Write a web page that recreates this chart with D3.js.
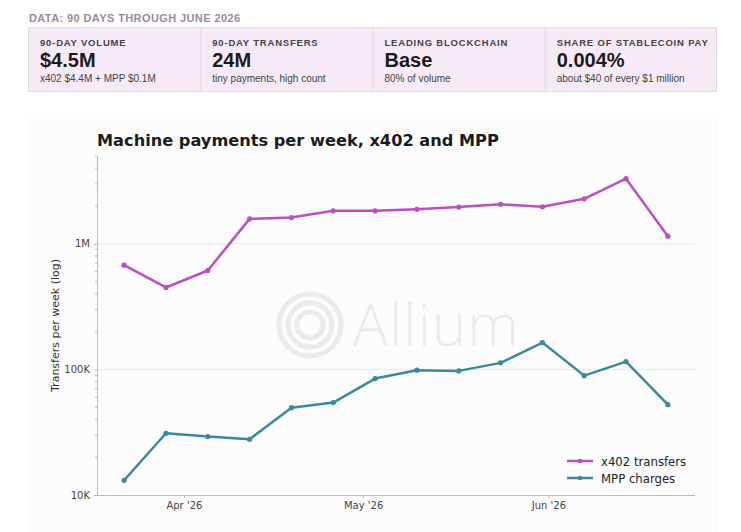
<!DOCTYPE html>
<html>
<head>
<meta charset="utf-8">
<script src="https://cdn.jsdelivr.net/npm/d3@7"></script>
<style>
body{margin:0;background:#fff;font-family:"Liberation Sans",Arial,sans-serif;}
svg{display:block;}
</style>
</head>
<body>
<svg id="chart" width="741" height="532"></svg>
<script>
// weekly data
var weeks=["2026-03-22","2026-03-29","2026-04-05","2026-04-12","2026-04-19","2026-04-26","2026-05-03",
           "2026-05-10","2026-05-17","2026-05-24","2026-05-31","2026-06-07","2026-06-14","2026-06-21"];
var x402Values=[676000,449000,613000,1580000,1620000,1830000,1830000,1880000,1960000,2060000,1970000,2280000,3300000,1150000];
var mppValues=[13100,31000,29200,27800,49600,54400,84500,98500,97300,112700,163500,89200,115400,52400];
var seriesNames=["x402 transfers","MPP charges"];
var yTicks=[10000,100000,1000000];
var yTickLabels=["10K","100K","1M"];
var xTicks=["2026-04-01","2026-05-01","2026-06-01"];
var xTickLabels=["Apr '26","May '26","Jun '26"];

var cardLabels=["90-DAY VOLUME","90-DAY TRANSFERS","LEADING BLOCKCHAIN","SHARE OF STABLECOIN PAY"];
var cardValues=["$4.5M","24M","Base","0.004%"];
var cardNotes=["x402 $4.4M + MPP $0.1M","tiny payments, high count","80% of volume","about $40 of every $1 million"];

var colors=["#bb4fc2","#3b899c"];
var parse=d3.utcParse("%Y-%m-%d");

var svg=d3.select("#chart");

//header + stat cards
svg.append("text")
	.attr("x",29).attr("y",22)
	.attr("fill","#9a8a9e")
	.style("font-size","11px").style("font-weight","bold").style("letter-spacing","0.4px")
	.text("DATA: 90 DAYS THROUGH JUNE 2026");

var cardX=d3.scaleBand().domain(d3.range(4)).range([28,717]);
svg.append("rect").attr("x",28.5).attr("y",27.5).attr("width",688).attr("height",64)
	.attr("fill","#f7eaf7").attr("stroke","#dedade");
var cards=svg.selectAll(".card").data(cardLabels).enter().append("g")
	.attr("class","card")
	.attr("transform",function(d,i){ return "translate("+cardX(i)+",27)"; });
cards.filter(function(d,i){ return i>0; }).append("line")
	.attr("x1",0.5).attr("x2",0.5).attr("y1",0).attr("y2",64)
	.attr("stroke","#dedade");
cards.append("text").attr("x",12).attr("y",19)
	.attr("fill","#444").style("font-size","9.5px").style("font-weight","bold").style("letter-spacing","0.8px")
	.text(function(d){ return d; });
cards.append("text").attr("x",12).attr("y",39.5)
	.attr("fill","#1b1b1b").style("font-size","20px").style("font-weight","bold")
	.text(function(d,i){ return cardValues[i]; });
cards.append("text").attr("x",12).attr("y",55)
	.attr("fill","#444").style("font-size","10px")
	.text(function(d,i){ return cardNotes[i]; });

//chart panel
svg.append("rect").attr("x",28).attr("y",119).attr("width",690).attr("height",413).attr("fill","#fcfcfc");

var margin={left:97,right:695,top:156,bottom:495};
var x=d3.scaleUtc()
	.domain([d3.utcHour.offset(parse(weeks[0]),-109),d3.utcHour.offset(parse(weeks[weeks.length-1]),109)])
	.range([margin.left,margin.right]);
var y=d3.scaleLog().domain([10000,5000000]).range([margin.bottom,margin.top]);

svg.append("text").attr("x",97).attr("y",146)
	.attr("fill","#1b1b1b")
	.style("font-family","'DejaVu Sans'").style("font-size","16.2px").style("font-weight","bold")
	.text("Machine payments per week, x402 and MPP");

//watermark
var wm=svg.append("g");
[31,22,13].forEach(function(r){
	wm.append("circle").attr("cx",310).attr("cy",325).attr("r",r)
		.attr("fill","none").attr("stroke","#ebebeb").attr("stroke-width",5);
});
wm.append("text").attr("x",353).attr("y",346)
	.attr("fill","#ebebeb")
	.style("font-family","'Open Sans'").style("font-size","58px").style("font-weight","300").style("letter-spacing","1.2px")
	.text("Allium");

//grid
svg.append("g").selectAll("line").data(yTicks.slice(1)).enter().append("line")
	.attr("x1",margin.left).attr("x2",margin.right)
	.attr("y1",function(d){ return y(d); }).attr("y2",function(d){ return y(d); })
	.attr("stroke","#e8e8e8").attr("stroke-width",1);

//axes
var yAxis=d3.axisLeft(y).tickValues(yTicks).tickFormat(function(d,i){ return yTickLabels[i]; }).tickSize(3).tickPadding(4);
var gy=svg.append("g").attr("transform","translate("+margin.left+",0)").call(yAxis);
var minor=[];
[10000,100000,1000000].forEach(function(b){ for(var k=2;k<10;k++){ if(b*k<=5000000) minor.push(b*k); } });
gy.selectAll(".minor").data(minor).enter().append("line").attr("class","minor")
	.attr("x1",-2).attr("x2",0).attr("y1",function(d){ return y(d); }).attr("y2",function(d){ return y(d); })
	.attr("stroke","#bbb");

var xAxis=d3.axisBottom(x).tickValues(xTicks.map(parse)).tickFormat(function(d,i){ return xTickLabels[i]; }).tickSize(3).tickPadding(4);
var gx=svg.append("g").attr("transform","translate(0,"+margin.bottom+")").call(xAxis);

[gx,gy].forEach(function(g){
	g.select(".domain").attr("stroke","#bbb");
	g.selectAll(".tick line").attr("stroke","#bbb");
	g.selectAll("text").attr("fill","#444").style("font-family","'DejaVu Sans'").style("font-size","10px");
});
gx.select(".domain").attr("d","M"+margin.left+",0.5H"+margin.right);
gy.select(".domain").attr("d","M0.5,"+margin.bottom+"V"+margin.top);

svg.append("text")
	.attr("transform","translate(59,"+((margin.top+margin.bottom)/2)+") rotate(-90)")
	.attr("text-anchor","middle").attr("fill","#333")
	.style("font-family","'DejaVu Sans'").style("font-size","11px")
	.text("Transfers per week (log)");

//lines
var series=[x402Values,mppValues];
var line=d3.line().x(function(d,i){ return x(parse(weeks[i])); }).y(function(d){ return y(d); });
series.forEach(function(vals,s){
	svg.append("path").datum(vals).attr("d",line)
		.attr("fill","none").attr("stroke",colors[s]).attr("stroke-width",2.5).attr("stroke-linejoin","round");
	svg.append("g").selectAll("circle").data(vals).enter().append("circle")
		.attr("cx",function(d,i){ return x(parse(weeks[i])); })
		.attr("cy",function(d){ return y(d); })
		.attr("r",2.6).attr("fill",colors[s]);
});

//legend
var lg=svg.append("g").attr("transform","translate(567,461)");
seriesNames.forEach(function(n,i){
	var row=lg.append("g").attr("transform","translate(0,"+(i*17)+")");
	row.append("line").attr("x1",0).attr("x2",26).attr("stroke",colors[i]).attr("stroke-width",2.5);
	row.append("circle").attr("cx",13).attr("r",2.3).attr("fill",colors[i]);
	row.append("text").attr("x",34).attr("y",4.5).attr("fill","#222")
		.style("font-family","'DejaVu Sans'").style("font-size","11.7px").text(n);
});
</script>
</body>
</html>
